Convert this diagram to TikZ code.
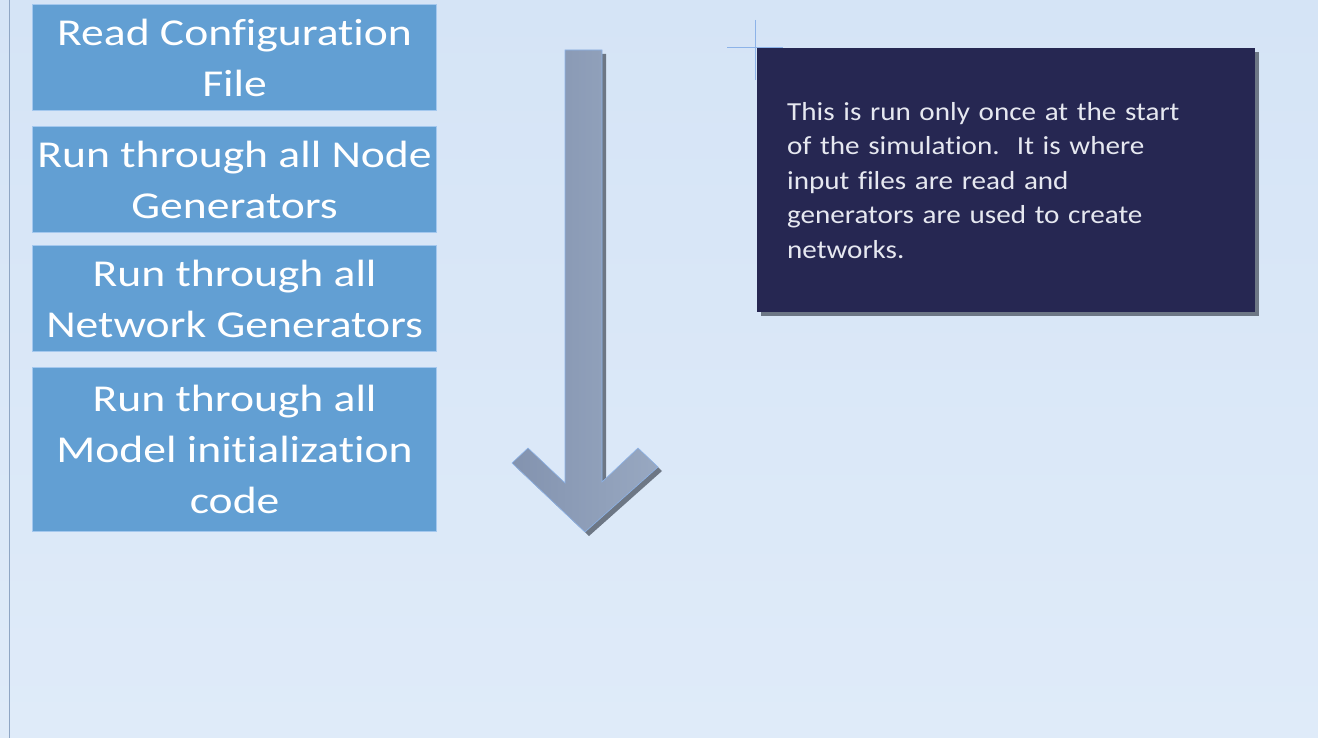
\documentclass[tikz,border=0pt]{standalone}
\usepackage{fontspec}
\setmainfont{Carlito}
\newfontfamily\stepfont[FakeStretch=1.2,Ligatures=NoCommon]{Carlito}
\newfontfamily\notefont[FakeStretch=1.12,Ligatures=NoCommon]{Carlito}
\usetikzlibrary{positioning,calc}
\definecolor{bgtop}{HTML}{D5E4F6}
\definecolor{bgbot}{HTML}{DFEBF9}
\definecolor{stepfill}{HTML}{629FD3}
\definecolor{stepline}{HTML}{A4C8EE}
\definecolor{notefill}{HTML}{262752}
\definecolor{notetext}{HTML}{E6E8F0}
\definecolor{shadowgray}{HTML}{6D7785}
\definecolor{arrowleft}{HTML}{8393AF}
\definecolor{arrowright}{HTML}{98A8C1}
\definecolor{crossblue}{HTML}{8DB3E8}
\definecolor{edgegray}{HTML}{8FA6C4}

\tikzset{
  stepbox/.style={draw=stepline, line width=1.2pt, fill=stepfill, text=white,
    align=center, minimum width=404pt, inner sep=0pt, anchor=north west,
    font=\stepfont\fontsize{38}{51}\selectfont},
  notebox/.style={fill=notefill, text=notetext, align=left, anchor=north west,
    minimum width=498pt, minimum height=264pt, inner xsep=30pt, inner ysep=0pt,
    text width=438pt, font=\notefont\fontsize{26}{34.5}\selectfont},
}

\begin{document}
\begin{tikzpicture}[x=1pt,y=-1pt]
  \useasboundingbox (0,0) rectangle (1318,738); % 画像全体の大きさ
  \shade[top color=bgtop,bottom color=bgbot] (0,0) rectangle (1318,738); % 背景
  \draw[edgegray,line width=1pt] (9,0) -- (9,738); % 左端の縦線

  \node[stepbox,minimum height=106pt] (readcfg) at (32,4) {Read Configuration\\File}; % 1番目の手順
  \node[stepbox,minimum height=106pt] (nodegen) at (32,126) {Run through all Node\\Generators}; % 2番目の手順
  \node[stepbox,minimum height=106pt] (netgen) at (32,245) {Run through all\\Network Generators}; % 3番目の手順
  \node[stepbox,minimum height=164pt] (modelinit) at (32,367) {Run through all\\Model initialization\\code}; % 4番目の手順

  \fill[shadowgray] (569,54) -- (606,54) -- (606,486) -- (642,452) -- (662,471)
    -- (589,536) -- (516,467) -- (532,452) -- (569,487) -- cycle; % 矢印の影
  \shade[left color=arrowleft,right color=arrowright,draw=crossblue,line width=0.6pt]
    (565,50) -- (602,50) -- (602,482) -- (638,448) -- (658,467)
    -- (585,532) -- (512,463) -- (528,448) -- (565,483) -- cycle; % 下向きの矢印

  \fill[shadowgray] (761,52) rectangle (1259,316); % 説明の箱の影
  \node[notebox] (note) at (757,48) {This is run only once at the start\\
    of the simulation.\ \ It is where\\
    input files are read and\\
    generators are used to create\\
    networks.}; % 説明の箱
  \draw[crossblue,line width=1pt] (755,20) -- (755,80); % 選択の十字（縦）
  \draw[crossblue,line width=1pt] (727,48) -- (783,48); % 選択の十字（横）
\end{tikzpicture}
\end{document}
